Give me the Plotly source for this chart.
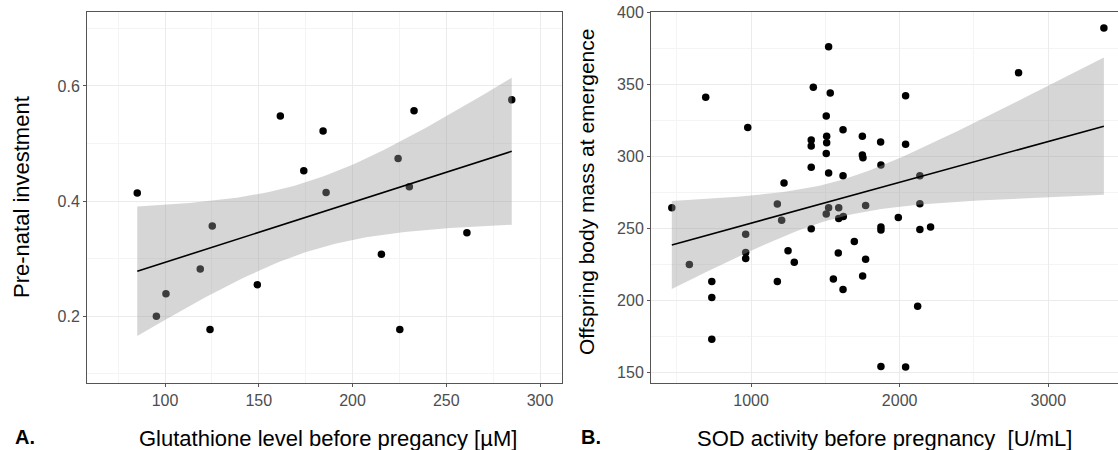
import numpy as np
import plotly.graph_objects as go

# ---- Panel A data: glutathione vs pre-natal investment ----
gsh_level = [85.2, 95.4, 100.5, 118.8, 124.0, 125.2, 149.2, 161.5, 174.0, 184.3,
             185.9, 215.4, 224.3, 225.2, 230.3, 232.8, 261.0, 284.9]
prenatal_inv = [0.414, 0.200, 0.239, 0.282, 0.177, 0.357, 0.255, 0.548, 0.453, 0.522,
                0.415, 0.308, 0.474, 0.177, 0.425, 0.557, 0.345, 0.576]

# ---- Panel B data: SOD activity vs offspring body mass ----
sod_activity = [695, 978, 1522, 1419, 1533, 2040, 2800, 3374, 1506, 1619,
                1509, 1405, 1405, 1509, 1749, 1872, 2040, 1506, 1749, 1753,
                1405, 1522, 1619, 1874, 2136, 1222, 467, 1177, 1522, 1590,
                1506, 1771, 1206, 1590, 1621, 1991, 2136, 1405, 1874, 1874,
                2136, 2208, 964, 964, 964, 585, 1249, 1291, 1695, 1587,
                1771, 1554, 1751, 1619, 736, 1177, 736, 736, 2121, 1874, 2040]
body_mass = [341, 320, 376, 348, 344, 342, 358, 389, 328, 318.5,
             314, 311.4, 307.2, 309.4, 314, 310, 308.5, 302, 301, 299,
             292.5, 288.5, 286.5, 294, 286.5, 281.5, 264.4, 267, 264.4, 264.4,
             260, 266, 255.8, 257, 258.4, 257.7, 267.2, 249.8, 251, 249,
             249.3, 251, 246.1, 233.3, 229.2, 225, 234.5, 226.6, 241, 233,
             228.7, 215, 217, 207.7, 213.2, 213.2, 202.1, 173.2, 196.1, 154.4, 154]

# Student t quantiles (0.975) for the residual degrees of freedom
T975 = {16: 2.1199, 59: 2.0010}

x_title_a = "Glutathione level before pregancy [µM]"
x_title_b = "SOD activity before pregnancy \u00a0[U/mL]"
y_title_a = "Pre-natal investment"
y_title_b = "Offspring body mass at emergence"

FONT = "Liberation Sans, Arial, sans-serif"
W, H = 1118, 450


def lm_band(x, y, npts=80):
    x = np.asarray(x, float)
    y = np.asarray(y, float)
    n = len(x)
    b, a = np.polyfit(x, y, 1)
    res = y - (a + b * x)
    s = np.sqrt(np.sum(res ** 2) / (n - 2))
    sxx = np.sum((x - x.mean()) ** 2)
    xs = np.linspace(x.min(), x.max(), npts)
    yh = a + b * xs
    se = s * np.sqrt(1.0 / n + (xs - x.mean()) ** 2 / sxx)
    t = T975[n - 2]
    return xs, yh, yh - t * se, yh + t * se


def px_x(p):
    return p / W


def px_y(p):
    return (H - p) / H


fig = go.Figure()

panels = [
    (gsh_level, prenatal_inv, "x", "y"),
    (sod_activity, body_mass, "x2", "y2"),
]
for xv, yv, xa, ya in panels:
    fig.add_trace(go.Scatter(x=xv, y=yv, mode="markers", xaxis=xa, yaxis=ya,
                             marker=dict(color="black", size=7.5),
                             showlegend=False, hoverinfo="skip"))
    xs, yh, lo, hi = lm_band(xv, yv)
    fig.add_trace(go.Scatter(x=np.concatenate([xs, xs[::-1]]),
                             y=np.concatenate([hi, lo[::-1]]),
                             mode="lines", fill="toself",
                             fillcolor="rgba(153,153,153,0.4)",
                             line=dict(width=0), xaxis=xa, yaxis=ya,
                             showlegend=False, hoverinfo="skip"))
    fig.add_trace(go.Scatter(x=xs, y=yh, mode="lines", xaxis=xa, yaxis=ya,
                             line=dict(color="black", width=1.6),
                             showlegend=False, hoverinfo="skip"))

ydom = [px_y(383), px_y(12)]
grid = "#ebebeb"
frame = "#555555"
tickfont = dict(family=FONT, size=16, color="#4d4d4d")

common = dict(showgrid=True, gridcolor=grid, gridwidth=1, zeroline=False,
              showline=True, linecolor=frame, linewidth=1,
              ticks="outside", ticklen=3, tickcolor=frame, tickwidth=1,
              tickfont=tickfont, automargin=False)

fig.update_layout(
    width=W, height=H,
    margin=dict(l=0, r=0, t=0, b=0, autoexpand=False),
    paper_bgcolor="white", plot_bgcolor="white",
    xaxis=dict(domain=[px_x(87), px_x(562)], range=[58.4, 311.7],
               tickmode="array", tickvals=[100, 150, 200, 250, 300],
               minor=dict(showgrid=True, gridcolor="#f4f4f4", tickvals=[75, 125, 175, 225, 275]),
               mirror=True, anchor="y", **common),
    yaxis=dict(domain=ydom, range=[0.0842, 0.7285],
               tickmode="array", tickvals=[0.2, 0.4, 0.6], ticktext=["0.2", "0.4", "0.6"],
               minor=dict(showgrid=True, gridcolor="#f4f4f4", tickvals=[0.1, 0.3, 0.5, 0.7]),
               mirror=True, anchor="x", **common),
    xaxis2=dict(domain=[px_x(651), 1.0], range=[327, 3469],
                tickmode="array", tickvals=[1000, 2000, 3000],
                minor=dict(showgrid=True, gridcolor="#f4f4f4", tickvals=[500, 1500, 2500]),
                mirror=True, anchor="y2", **common),
    yaxis2=dict(domain=ydom, range=[142.9, 400.1],
                tickmode="array", tickvals=[150, 200, 250, 300, 350, 400],
                minor=dict(showgrid=True, gridcolor="#f4f4f4", tickvals=[175, 225, 275, 325, 375]),
                mirror=False, anchor="x2", **common),
)

ann_font = dict(family=FONT, size=22, color="black")
fig.add_annotation(text=x_title_a, x=px_x(327.5), y=px_y(438), xref="paper", yref="paper",
                   showarrow=False, xanchor="center", yanchor="middle", font=ann_font)
fig.add_annotation(text=x_title_b, x=px_x(884), y=px_y(438), xref="paper", yref="paper",
                   showarrow=False, xanchor="center", yanchor="middle", font=ann_font)
fig.add_annotation(text=y_title_a, x=px_x(21), y=px_y(197), xref="paper", yref="paper",
                   showarrow=False, xanchor="center", yanchor="middle", textangle=-90,
                   font=ann_font)
fig.add_annotation(text=y_title_b, x=px_x(586), y=px_y(192), xref="paper", yref="paper",
                   showarrow=False, xanchor="center", yanchor="middle", textangle=-90,
                   font=dict(family=FONT, size=21, color="black"))
fig.add_annotation(text="<b>A.</b>", x=px_x(25), y=px_y(437), xref="paper", yref="paper",
                   showarrow=False, xanchor="center", yanchor="middle",
                   font=dict(family=FONT, size=20, color="black"))
fig.add_annotation(text="<b>B.</b>", x=px_x(591), y=px_y(437), xref="paper", yref="paper",
                   showarrow=False, xanchor="center", yanchor="middle",
                   font=dict(family=FONT, size=20, color="black"))

fig.write_html("out.html")
